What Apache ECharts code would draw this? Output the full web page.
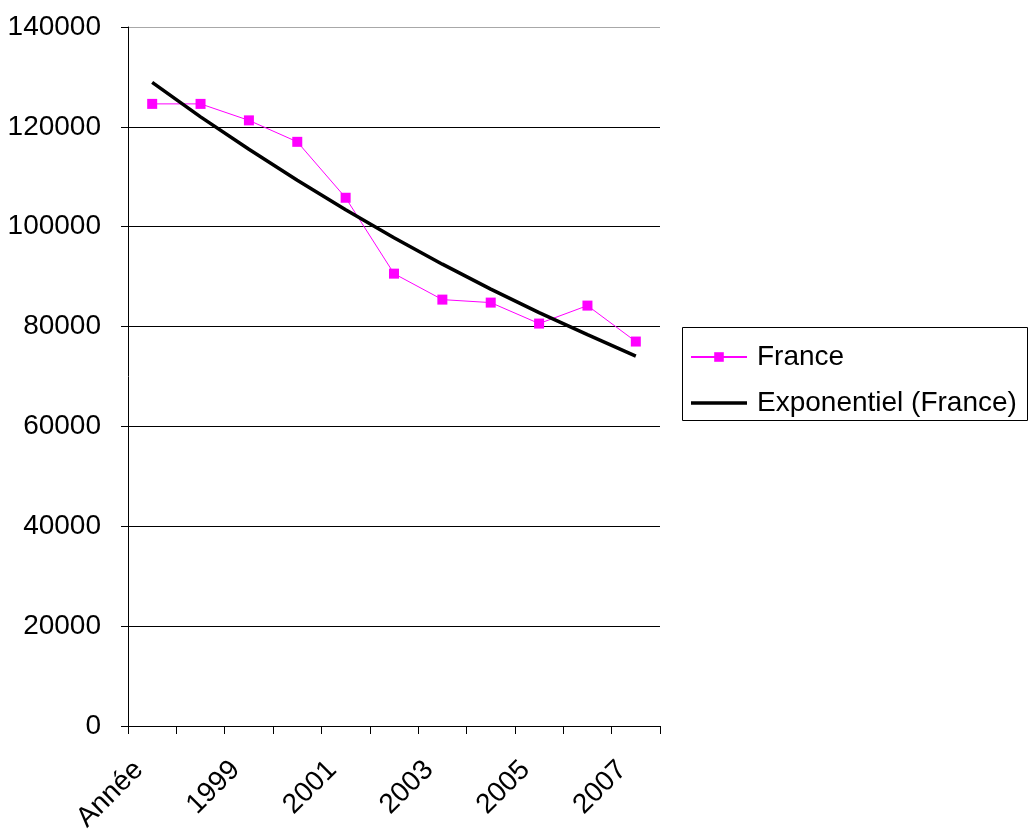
<!DOCTYPE html>
<html>
<head>
<meta charset="utf-8">
<script src="https://cdn.jsdelivr.net/npm/echarts@6/dist/echarts.min.js"></script>
<style>
html,body{margin:0;padding:0;background:#fff;}
#chart{width:1028px;height:832px;}
</style>
</head>
<body>
<div id="chart"></div>
<script>
var categories = ['Année', '1998', '1999', '2000', '2001', '2002', '2003', '2004', '2005', '2006', '2007'];
var franceValues = [124600, 124600, 121300, 117000, 105800, 90600, 85400, 84800, 80600, 84200, 77000];
var trendValues = [128900, 122000, 115500, 109300, 103400, 97800, 92500, 87500, 82800, 78400, 74100];
var yTicks = { min: 0, max: 140000, interval: 20000 };

var FONT = 'Liberation Sans, Arial, sans-serif';
var chart = echarts.init(document.getElementById('chart'), null, { renderer: 'canvas' });

var option = {
  animation: false,
  backgroundColor: '#ffffff',
  grid: { left: 128, top: 27, right: 368, bottom: 106, containLabel: false, outerBoundsMode: 'none' },
  graphic: [{
    type: 'rect', z: 1,
    shape: { x: 682.5, y: 327.5, width: 345, height: 93 },
    style: { fill: '#ffffff', stroke: '#000000', lineWidth: 1 }
  }],
  legend: {
    orient: 'vertical',
    left: 690, top: 343,
    itemWidth: 56, itemHeight: 12,
    itemGap: 18,
    padding: 0,
    z: 5,
    textStyle: { fontFamily: FONT, fontSize: 28, color: '#000', padding: [0, 0, 0, 5] },
    data: [
      { name: 'France' },
      { name: 'Exponentiel (France)', icon: 'path://M0,0L0.01,0L0,0.01Z M0,4.2L56,4.2L56,7.8L0,7.8Z M55.99,12L56,12L56,11.99Z' }
    ]
  },
  xAxis: {
    type: 'category',
    data: categories,
    boundaryGap: true,
    axisLine: { show: true, lineStyle: { color: '#000', width: 1 } },
    axisTick: { show: true, interval: 0, length: 8, lineStyle: { color: '#000' } },
    axisLabel: {
      interval: 1, rotate: 45, margin: 26,
      fontFamily: FONT, fontSize: 28, color: '#000',
      padding: [0, 19, 0, 0]
    },
    splitLine: { show: false }
  },
  yAxis: {
    type: 'value',
    min: yTicks.min, max: yTicks.max, interval: yTicks.interval,
    axisLine: { show: true, lineStyle: { color: '#000', width: 1 } },
    axisTick: { show: true, length: 7, lineStyle: { color: '#000' } },
    axisLabel: {
      margin: 27, fontFamily: FONT, fontSize: 28, color: '#000',
      formatter: function (v) { return String(v); }
    },
    splitLine: {
      show: true,
      lineStyle: { color: ['#000', '#000', '#000', '#000', '#000', '#000', '#000', '#a8a8a8'], width: 1 }
    }
  },
  series: [
    {
      name: 'France',
      type: 'line',
      data: franceValues,
      symbol: 'rect',
      symbolSize: 10,
      itemStyle: { color: '#ff00ff' },
      lineStyle: { color: '#ff00ff', width: 1 },
      z: 3
    },
    {
      name: 'Exponentiel (France)',
      type: 'line',
      data: trendValues,
      symbol: 'none',
      itemStyle: { color: '#000' },
      lineStyle: { color: '#000', width: 3.5 },
      z: 4
    }
  ]
};
chart.setOption(option);
</script>
</body>
</html>
